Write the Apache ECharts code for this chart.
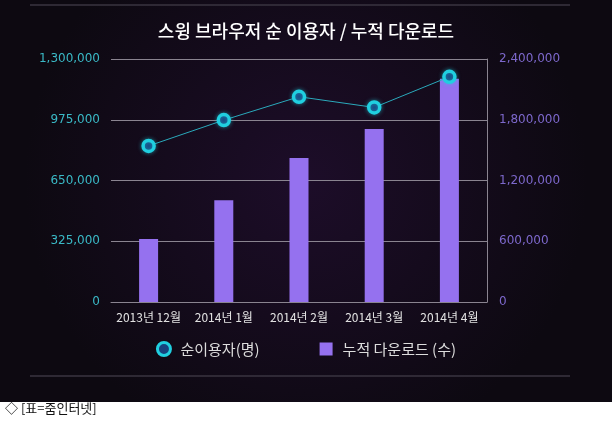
<!DOCTYPE html>
<html>
<head>
<meta charset="utf-8">
<script type="text/javascript" src="https://cdn.jsdelivr.net/npm/echarts@6.0.0/dist/echarts.min.js"></script>
<style>
	html, body { margin: 0; padding: 0; background: #fff; }
	#main { width: 612px; height: 422px; }
</style>
</head>
<body>
<div id="main"></div>
<script type="text/javascript">
	// 데이터
	var months = ['2013년 12월', '2014년 1월', '2014년 2월', '2014년 3월', '2014년 4월'];
	var users = [835000, 973000, 1098000, 1041000, 1205000];      // 순이용자(명)
	var downloads = [623000, 1006000, 1421000, 1708000, 2205000]; // 누적 다운로드 (수)
	var leftTicks = [0, 1300000, 325000];   // min, max, interval
	var rightTicks = [0, 2400000, 600000];

	var font = "'Noto Sans CJK KR', 'DejaVu Sans', sans-serif";
	function comma(v) {
		return String(v).replace(/\B(?=(\d{3})+(?!\d))/g, ',');
	}

	var myChart = echarts.init(document.getElementById('main'));
	var option = {
		backgroundColor: '#ffffff',
		textStyle: { fontFamily: font },
		graphic: [{
			type: 'rect',
			z: -10,
			shape: { x: 0, y: 0, width: 612, height: 402 },
			style: {
				fill: new echarts.graphic.RadialGradient(0.5, 0.45, 0.7, [
					{ offset: 0, color: '#1d0d29' },
					{ offset: 1, color: '#0d0911' }
				])
			}
		}, {
			type: 'line', z: -5,
			shape: { x1: 30, y1: 5, x2: 570, y2: 5 },
			style: { stroke: '#3a3440', lineWidth: 1.5 }
		}, {
			type: 'line', z: -5,
			shape: { x1: 30, y1: 376, x2: 570, y2: 376 },
			style: { stroke: '#3a3440', lineWidth: 1.5 }
		}, {
			type: 'text',
			left: 5, top: 402,
			style: { text: '◇ [표=줌인터넷]', fill: '#111', font: '13px ' + font }
		}],
		title: {
			text: '스윙 브라우저 순 이용자 / 누적 다운로드',
			left: 'center',
			top: 17,
			textStyle: { color: '#ffffff', fontSize: 18, fontWeight: 500, fontFamily: font }
		},
		legend: {
			bottom: 60,
			left: 'center',
			itemGap: 60,
			itemWidth: 13,
			itemHeight: 13,
			textStyle: { color: '#dddddd', fontSize: 15, fontFamily: font, padding: [0, 0, 0, 5] },
			data: [{
				name: '순이용자(명)',
				icon: 'circle',
				itemStyle: { color: '#17427e', borderColor: '#20cfe0', borderWidth: 3 }
			}, {
				name: '누적 다운로드 (수)',
				icon: 'rect'
			}]
		},
		grid: { left: 111, right: 125, top: 59, bottom: 120 },
		xAxis: {
			type: 'category',
			data: months,
			axisLine: { lineStyle: { color: '#8a8490', width: 1 } },
			axisTick: { show: false },
			axisLabel: { color: '#e2e2e2', fontSize: 12, margin: 9, interval: 0, fontFamily: font }
		},
		yAxis: [{
			type: 'value',
			min: leftTicks[0], max: leftTicks[1], interval: leftTicks[2],
			axisLine: { show: false },
			axisTick: { show: false },
			splitLine: { lineStyle: { color: '#8a8490', width: 1 } },
			axisLabel: { color: '#3ab9c6', fontSize: 12, margin: 11, formatter: comma, fontFamily: 'DejaVu Sans' }
		}, {
			type: 'value',
			min: rightTicks[0], max: rightTicks[1], interval: rightTicks[2],
			axisLine: { show: true, lineStyle: { color: '#8a8490', width: 1 } },
			axisTick: { show: false },
			splitLine: { show: false },
			axisLabel: { color: '#7d68cc', fontSize: 12, margin: 12, formatter: comma, fontFamily: 'DejaVu Sans' }
		}],
		series: [{
			name: '누적 다운로드 (수)',
			type: 'bar',
			yAxisIndex: 1,
			barWidth: 19,
			data: downloads,
			itemStyle: { color: '#9571ef' },
			z: 2
		}, {
			name: '순이용자(명)',
			type: 'line',
			yAxisIndex: 0,
			data: users,
			symbol: 'circle',
			symbolSize: 11,
			lineStyle: { color: '#2aa9bb', width: 1 },
			itemStyle: {
				color: '#17427e',
				borderColor: '#20cfe0',
				borderWidth: 3.5,
				shadowColor: 'rgba(32,207,224,0.5)',
				shadowBlur: 4
			},
			z: 3
		}]
	};
	myChart.setOption(option);
</script>
</body>
</html>
